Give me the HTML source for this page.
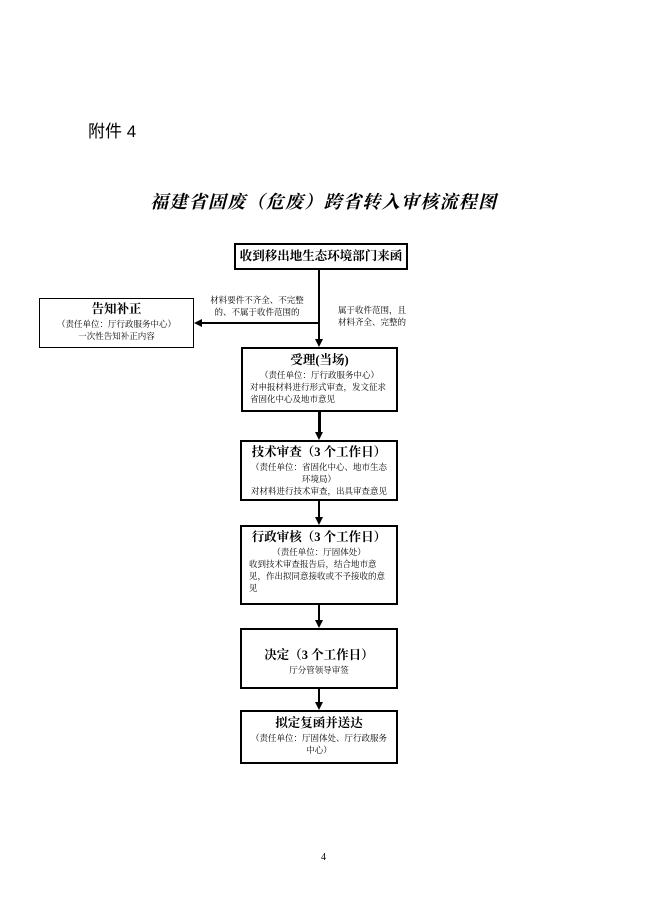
<!DOCTYPE html>
<html><head><meta charset="utf-8"><style>
body{margin:0;width:650px;height:919px;background:#fff;position:relative;font-family:"Liberation Serif","Noto Serif CJK SC",serif;color:#000;overflow:hidden}
.a{position:absolute}
.box{position:absolute;border:2px solid #000;box-sizing:border-box;text-align:center;font-size:8.5px;line-height:12px}
.h{font-size:12.5px;line-height:17px;font-weight:bold}
.l{text-align:left}
.v{position:absolute;width:1.5px;background:#000}
.ah{position:absolute;width:0;height:0;border-left:4px solid transparent;border-right:4px solid transparent;border-top:8px solid #000}
</style></head><body>
<div class="a" style="left:88px;top:117px;font-size:17px;font-family:'Liberation Sans','Noto Sans CJK SC',sans-serif">附件 4</div>
<div class="a" style="left:150px;top:188px;font-size:18px;letter-spacing:1.3px;font-family:'Liberation Serif','Noto Serif CJK SC',serif;font-style:italic;font-weight:bold">福建省固废（危废）跨省转入审核流程图</div>

<div class="box" style="left:234px;top:243px;width:174px;height:27px;border-width:2.5px"><div class="h" style="line-height:22px">收到移出地生态环境部门来函</div></div>
<div class="v" style="left:318px;top:270px;height:70px"></div>
<div class="ah" style="left:315px;top:339px"></div>
<div class="a" style="left:200px;top:322px;width:118px;height:1.5px;background:#000"></div>
<div class="a" style="left:194px;top:319px;width:0;height:0;border-top:4px solid transparent;border-bottom:4px solid transparent;border-right:8px solid #000"></div>
<div class="a" style="left:207px;top:294px;font-size:8.5px;line-height:12px;text-align:center;width:100px">材料要件不齐全、不完整<br>的、不属于收件范围的</div>
<div class="a" style="left:338px;top:304px;font-size:8.5px;line-height:12px">属于收件范围，且<br>材料齐全、完整的</div>

<div class="box" style="left:39px;top:298px;width:155px;height:50px;border-width:1.5px;padding-top:2px"><div class="h">告知补正</div>（责任单位：厅行政服务中心）<br>一次性告知补正内容</div>

<div class="box" style="left:241px;top:347px;width:157px;height:65px;padding-top:3px"><div class="h">受理(当场)</div>（责任单位：厅行政服务中心）<div class="l" style="padding-left:7px">对申报材料进行形式审查，发文征求<br>省固化中心及地市意见</div></div>
<div class="v" style="left:318px;top:412px;height:22px;width:2.5px"></div>
<div class="ah" style="left:315px;top:432px"></div>

<div class="box" style="left:240px;top:440px;width:158px;height:61px;padding-top:2px"><div class="h">技术审查（3 个工作日）</div>（责任单位：省固化中心、地市生态<br>环境局）<br>对材料进行技术审查，出具审查意见</div>
<div class="v" style="left:318px;top:501px;height:17px"></div>
<div class="ah" style="left:315px;top:517px"></div>

<div class="box" style="left:240px;top:525px;width:158px;height:80px;padding-top:2px"><div class="h">行政审核（3 个工作日）</div>（责任单位：厅固体处）<div class="l" style="padding-left:7px">收到技术审查报告后，结合地市意<br>见，作出拟同意接收或不予接收的意<br>见</div></div>
<div class="v" style="left:318px;top:605px;height:16px"></div>
<div class="ah" style="left:315px;top:620px"></div>

<div class="box" style="left:240px;top:628px;width:158px;height:61px;padding-top:17px"><div class="h">决定（3 个工作日）</div>厅分管领导审签</div>
<div class="v" style="left:318px;top:689px;height:14px"></div>
<div class="ah" style="left:315px;top:702px"></div>

<div class="box" style="left:240px;top:710px;width:158px;height:54px;padding-top:3px"><div class="h">拟定复函并送达</div>（责任单位：厅固体处、厅行政服务<br>中心）</div>

<div class="a" style="left:321px;top:852px;font-size:10px">4</div>
</body></html>
